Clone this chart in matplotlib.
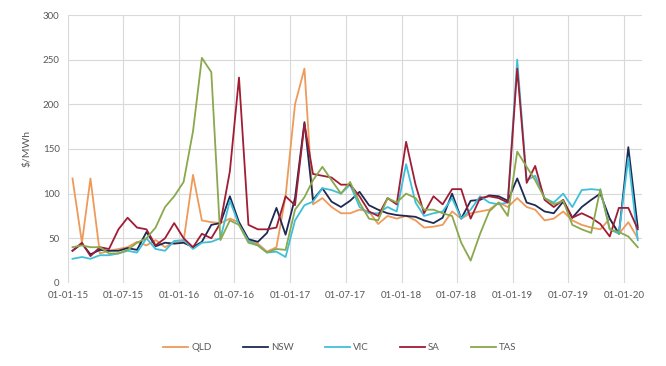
import numpy as np
import pandas as pd
import matplotlib
matplotlib.use("Agg")
import matplotlib.pyplot as plt
import matplotlib.dates as mdates

# monthly prices, Jan 2015 .. Feb 2020
months = pd.date_range("2015-01-01", periods=62, freq="MS")

qld = [117, 45, 117, 33, 36, 38, 40, 46, 42, 48, 40, 46,
       47, 121, 70, 68, 67, 72, 68, 48, 44, 35, 40, 97,
       200, 240, 88, 95, 85, 78, 78, 82, 80, 66, 75, 72,
       75, 70, 62, 63, 65, 80, 72, 78, 80, 82, 90, 85,
       95, 85, 82, 70, 72, 80, 70, 65, 62, 60, 72, 55,
       68, 50]
nsw = [36, 44, 32, 37, 36, 36, 39, 37, 57, 41, 45, 44,
       45, 40, 46, 65, 67, 97, 68, 49, 46, 56, 84, 54,
       95, 180, 93, 106, 91, 85, 92, 102, 87, 82, 78, 76,
       75, 74, 70, 67, 73, 100, 72, 92, 93, 98, 97, 92,
       117, 90, 87, 80, 78, 91, 73, 85, 93, 100, 72, 55,
       152, 62]
vic = [27, 29, 27, 31, 31, 33, 36, 34, 50, 38, 36, 47,
       48, 38, 45, 46, 50, 92, 65, 47, 42, 34, 35, 29,
       70, 87, 91, 106, 104, 100, 110, 85, 78, 78, 85, 80,
       133, 90, 75, 78, 80, 95, 72, 82, 97, 90, 88, 90,
       250, 115, 120, 95, 90, 100, 85, 104, 105, 104, 60, 55,
       140, 48]
sa = [36, 45, 30, 40, 38, 60, 73, 62, 60, 42, 50, 67,
      50, 40, 55, 50, 67, 125, 230, 65, 60, 60, 62, 97,
      87, 178, 122, 120, 118, 110, 110, 97, 80, 75, 95, 88,
      158, 110, 78, 97, 88, 105, 105, 72, 95, 97, 95, 90,
      240, 112, 131, 93, 85, 93, 73, 78, 73, 66, 52, 84,
      84, 60]
tas = [40, 42, 40, 40, 33, 33, 37, 45, 50, 62, 85, 97,
       113, 170, 252, 236, 48, 70, 65, 45, 42, 34, 38, 37,
       82, 96, 115, 130, 115, 100, 113, 90, 72, 70, 95, 90,
       100, 95, 82, 82, 78, 75, 45, 25, 55, 80, 90, 75,
       147, 130, 115, 95, 88, 92, 65, 60, 56, 105, 60, 57,
       52, 40]

labels = ["QLD", "NSW", "VIC", "SA", "TAS"]
series = [qld, nsw, vic, sa, tas]
colors = ["#EE9A5A", "#1E2A55", "#3FC0DA", "#A11D35", "#8AA84C"]

plt.rcParams["font.family"] = ["Lato", "DejaVu Sans"]

fig = plt.figure(figsize=(6.66, 3.66), dpi=100)
ax = fig.add_axes([0.102, 0.227, 0.862, 0.732])

# points sit in the middle of each month
x = months + pd.Timedelta(days=15)
for lab, vals, col in zip(labels, series, colors):
    ax.plot(x, vals, color=col, lw=1.3, label=lab)

ax.set_ylim(0, 300)
ax.set_yticks(np.arange(0, 301, 50))
ax.set_xlim(pd.Timestamp("2015-01-01"), pd.Timestamp("2020-03-01"))
ax.set_xticks(pd.date_range("2015-01-01", "2020-01-01", freq="6MS"))
ax.xaxis.set_major_formatter(mdates.DateFormatter("%d-%m-%y"))

ax.grid(True, color="#D9D9D9", lw=0.8)
ax.set_axisbelow(True)
for s in ax.spines.values():
    s.set_visible(False)
ax.tick_params(length=0, labelsize=7, labelcolor="#595959", pad=6)
ax.set_ylabel(r"\$/MWh", fontsize=7.5, color="#595959", labelpad=8)

fig.legend(loc="center", bbox_to_anchor=(0.51, 0.05), ncol=5, frameon=False,
           fontsize=7, labelcolor="#595959", handlelength=2.6, handletextpad=0.3,
           columnspacing=3.2)

fig.savefig("out.png", dpi=100)
